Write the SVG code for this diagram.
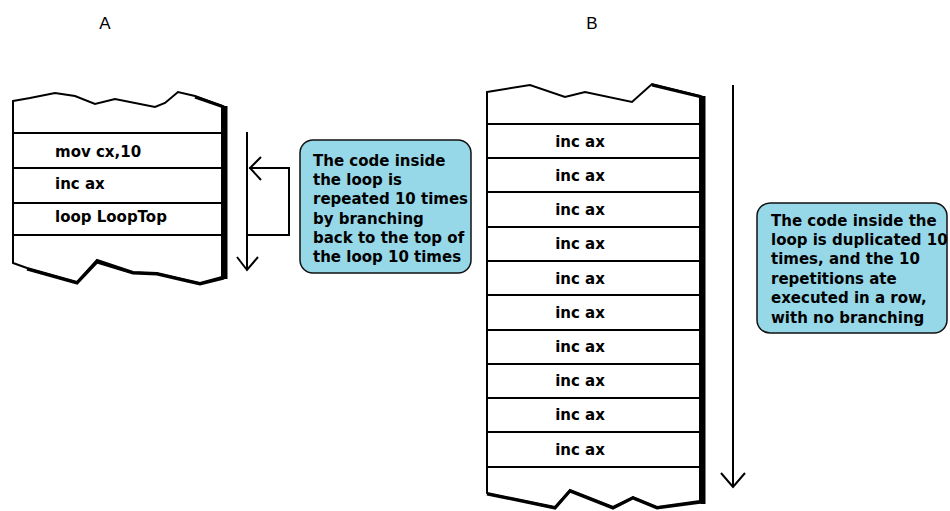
<svg xmlns="http://www.w3.org/2000/svg" width="950" height="511" viewBox="0 0 950 511">
<style>
.stack{fill:#fff;stroke:#000;stroke-width:2;stroke-linejoin:miter}
.sep{stroke:#000;stroke-width:2}
.band{stroke:#000;stroke-width:5;fill:none}
.edge{stroke:#000;stroke-width:3;fill:none}
.code{font-family:"DejaVu Sans",sans-serif;font-weight:bold;font-size:15px;fill:#000}
.note{fill:#97d8e8;stroke:#111;stroke-width:1.5}
.ntext{font-family:"DejaVu Sans",sans-serif;font-weight:bold;font-size:15px;fill:#000}
.lbl{font-family:"Liberation Sans",Arial,sans-serif;font-size:17px;fill:#000;text-anchor:middle}
.arr{stroke:#000;stroke-width:2;fill:none}
</style>
<rect width="950" height="511" fill="#fff"/>
<text class="lbl" x="105" y="29">A</text>
<text class="lbl" x="592" y="29">B</text>

<g id="stackA">
<path class="stack" d="M13,101 L30,98 L55,93 L75,96 L95,104 L115,99 L155,107 L165,103 L178,92 L195,96 L222,106 L222,277 L200,283 L187,280 L157,273 L133,272 L97,260 L77,282 L27,268 L13,263 Z"/>
<path class="edge" d="M27,269 L77,283 L97,262 L133,273 L157,274 L187,281 L200,284 L224,278"/>
<path class="edge" d="M195,97 L224,107"/>
<line class="band" x1="225" y1="106" x2="225" y2="279"/>
<line class="sep" x1="13" y1="133" x2="222" y2="133"/>
<line class="sep" x1="13" y1="168" x2="222" y2="168"/>
<line class="sep" x1="13" y1="203" x2="222" y2="203"/>
<line class="sep" x1="13" y1="235" x2="222" y2="235"/>
<text class="code" x="55" y="157">mov cx,10</text>
<text class="code" x="55" y="189">inc ax</text>
<text class="code" x="55" y="222">loop LoopTop</text>
</g>

<g id="stackB">
<path class="stack" d="M487,92 L530,85 L565,97 L585,92 L632,102 L652,84 L700,96 L700,501 L657,507 L633,497 L613,507 L570,490 L555,507 L487,493 Z"/>
<path class="edge" d="M487,494 L555,508 L570,491 L613,508 L633,498 L657,508 L702,502"/>
<path class="edge" d="M652,85 L702,97"/>
<line class="band" x1="703" y1="96" x2="703" y2="504"/>
<g class="sep">
<line x1="487" y1="124" x2="700" y2="124"/>
<line x1="487" y1="158" x2="700" y2="158"/>
<line x1="487" y1="192" x2="700" y2="192"/>
<line x1="487" y1="227" x2="700" y2="227"/>
<line x1="487" y1="261" x2="700" y2="261"/>
<line x1="487" y1="295" x2="700" y2="295"/>
<line x1="487" y1="330" x2="700" y2="330"/>
<line x1="487" y1="364" x2="700" y2="364"/>
<line x1="487" y1="398" x2="700" y2="398"/>
<line x1="487" y1="432" x2="700" y2="432"/>
<line x1="487" y1="467" x2="700" y2="467"/>
</g>
<g class="code" text-anchor="middle">
<text x="580" y="147">inc ax</text>
<text x="580" y="181">inc ax</text>
<text x="580" y="215">inc ax</text>
<text x="580" y="249">inc ax</text>
<text x="580" y="284">inc ax</text>
<text x="580" y="318">inc ax</text>
<text x="580" y="352">inc ax</text>
<text x="580" y="386">inc ax</text>
<text x="580" y="420">inc ax</text>
<text x="580" y="455">inc ax</text>
</g>
</g>

<g id="noteA">
<rect class="note" x="300" y="140" width="171" height="133" rx="13"/>
<text class="ntext" x="313" y="166">The code inside</text>
<text class="ntext" x="313" y="185">the loop is</text>
<text class="ntext" x="313" y="204">repeated 10 times</text>
<text class="ntext" x="313" y="224">by branching</text>
<text class="ntext" x="313" y="243">back to the top of</text>
<text class="ntext" x="313" y="262">the loop 10 times</text>
</g>

<g id="noteB">
<rect class="note" x="757" y="203" width="190" height="130" rx="13"/>
<text class="ntext" x="771" y="226">The code inside the</text>
<text class="ntext" x="771" y="245">loop is duplicated 10</text>
<text class="ntext" x="771" y="264">times, and the 10</text>
<text class="ntext" x="771" y="284">repetitions ate</text>
<text class="ntext" x="771" y="303">executed in a row,</text>
<text class="ntext" x="771" y="323">with no branching</text>
</g>

<g id="connectors">
<path class="arr" d="M247,132 L247,270"/>
<path class="arr" d="M237,257 L247,270 L258,257"/>
<path class="arr" d="M249,168 L289,168 L289,235 L247,235"/>
<path class="arr" d="M261,157 L250,168 L261,180"/>
<path class="arr" d="M733,85 L733,487"/>
<path class="arr" d="M721,473 L733,487 L745,473"/>
</g>
</svg>
